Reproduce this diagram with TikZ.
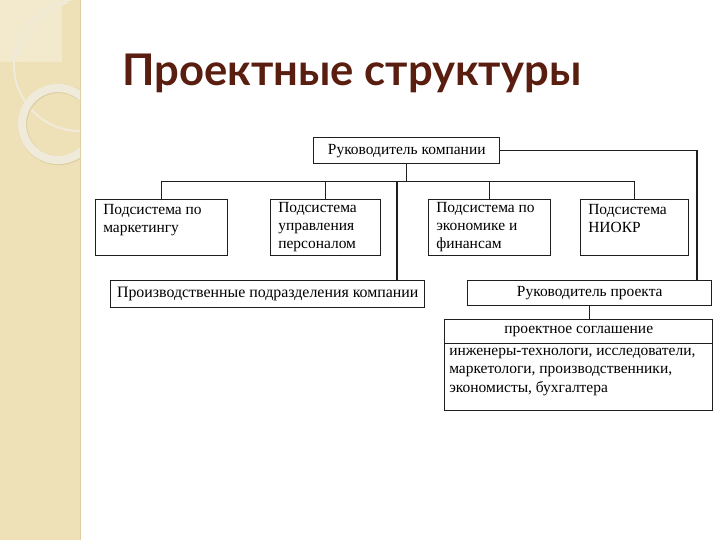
\documentclass[tikz,border=0pt]{standalone}
\usepackage{fontspec}
\setmainfont{Liberation Serif}
\newfontfamily\titlefont{Lato}
\usetikzlibrary{calc}

\definecolor{strip}{HTML}{EFE1B7}
\definecolor{stripl}{HTML}{F3E9CC}
\definecolor{stripd}{HTML}{DCCDA2}
\definecolor{ringc}{HTML}{EFEADA}
\definecolor{titlec}{HTML}{5A1E10}
\definecolor{ink}{HTML}{1E1E1E}

\begin{document}
\begin{tikzpicture}[x=0.025cm,y=-0.025cm,
  unit/.style={draw=ink, line width=1pt, anchor=north west, inner sep=0pt,
    font=\fontsize{11}{13}\selectfont},
  label/.style={anchor=north west, align=left, inner sep=0pt,
    font=\fontsize{11}{13}\selectfont}]

\useasboundingbox (0,0) rectangle (720,540);

% left strip
\fill[strip] (0,0) rectangle (80,540);
\fill[stripl] (0,0) rectangle (62,62);
\draw[stripd, line width=0.6pt] (80,0) -- (80,540);
\begin{scope}
\clip (0,0) rectangle (80,540);
\draw[ringc, line width=1.4pt] (80,65) circle (66);
\draw[ringc, line width=1.4pt] (13,62) .. controls (28,30) and (45,10) .. (68,2);
\draw[stripd, line width=6.4pt] (58.6,124.6) circle (36);
\draw[ringc, line width=5.8pt] (58,124) circle (36);
\end{scope}

% title
\node[anchor=base west, inner sep=0pt, text=titlec,
  font=\titlefont\bfseries\fontsize{31}{38}\selectfont] (title) at (122,85) {Проектные структуры};

% boxes
\node[unit, minimum width=4.65cm, minimum height=0.65cm] (boss) at (313,137) {Руководитель компании};

\node[unit, minimum width=3.3cm, minimum height=1.4cm] (mkt) at (95,199) {};
\node[label] (mktt) at ($(mkt.north west)+(8,5)$) {Подсистема по\\маркетингу};

\node[unit, minimum width=2.75cm, minimum height=1.4cm] (hr) at (270,199) {};
\node[label] (hrt) at ($(hr.north west)+(8,3)$) {Подсистема\\управления\\персоналом};

\node[unit, minimum width=3.05cm, minimum height=1.4cm] (fin) at (428,199) {};
\node[label] (fint) at ($(fin.north west)+(8,3)$) {Подсистема по\\экономике и\\финансам};

\node[unit, minimum width=2.7cm, minimum height=1.4cm] (rnd) at (580,199) {};
\node[label] (rndt) at ($(rnd.north west)+(8,5)$) {Подсистема\\НИОКР};

\node[unit, minimum width=7.85cm, minimum height=0.675cm,
  font=\fontsize{11.3}{13}\selectfont] (prod) at (110,280) {Производственные подразделения компании};
\node[unit, minimum width=6.1cm, minimum height=0.625cm] (pm) at (467,280) {Руководитель проекта};

\node[unit, minimum width=6.7cm, minimum height=0.6cm] (agree) at (444,319) {проектное соглашение};
\node[unit, minimum width=6.7cm, minimum height=1.675cm] (team) at (444,343) {};
\node[label] (teamt) at ($(team.north west)+(5,5)$) {инженеры-технологи, исследователи,\\маркетологи, производственники,\\экономисты, бухгалтера};

% connectors
\begin{scope}[draw=ink, line width=1pt]
\draw (boss.south) -- ++(0,17) coordinate (bus);
\draw (mkt.north) |- (rnd.north |- bus) -- (rnd.north);
\draw (hr.north) -- (hr.north |- bus);
\draw (fin.north) -- (fin.north |- bus);
\coordinate (prodin) at (397,280);
\draw (prodin) -- (prodin |- bus);
\coordinate (pmin) at (697,280);
\draw (boss.east) -| (pmin);
\draw (pm.south) -- (agree.north -| pm.south);
\end{scope}

\end{tikzpicture}
\end{document}
